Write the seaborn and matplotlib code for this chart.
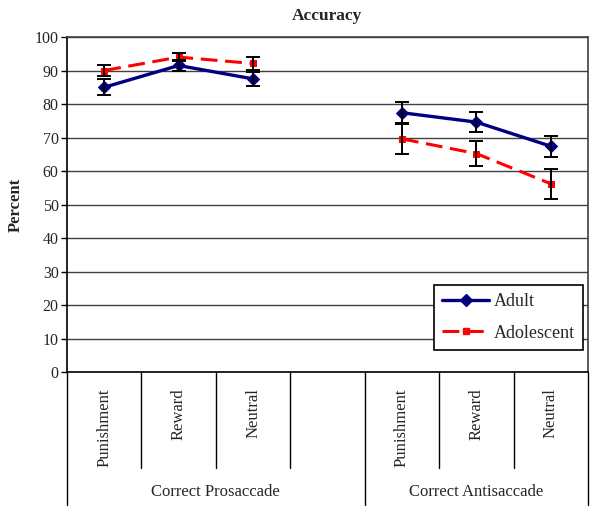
import numpy as np
import pandas as pd
import matplotlib
matplotlib.use("Agg")
import matplotlib.pyplot as plt
import matplotlib.transforms as mtransforms
import seaborn as sns

# category axis (position 3 is an empty slot in the original chart)
conditions = ["Punishment", "Reward", "Neutral", "", "Punishment", "Reward", "Neutral"]
groups = ["Correct Prosaccade", "Correct Antisaccade"]
group_slots = [[0, 1, 2], [4, 5, 6]]

adult_pro = [85.0, 91.5, 87.5]
adult_anti = [77.4, 74.6, 67.4]
adolescent_pro = [90.0, 94.0, 92.1]
adolescent_anti = [69.6, 65.2, 56.2]

adult_pro_err = [2.4, 1.6, 2.0]
adult_anti_err = [3.2, 2.9, 3.2]
adolescent_pro_err = [1.6, 1.1, 1.8]
adolescent_anti_err = [4.5, 3.8, 4.5]

sns.set_theme(style="white")
plt.rcParams["font.family"] = ["Liberation Serif", "DejaVu Serif"]

rows = []
for series, vals, errs in [("Adult", [adult_pro, adult_anti], [adult_pro_err, adult_anti_err]),
                           ("Adolescent", [adolescent_pro, adolescent_anti],
                            [adolescent_pro_err, adolescent_anti_err])]:
    for g, slots, v, e in zip(groups, group_slots, vals, errs):
        for s, val, err in zip(slots, v, e):
            rows.append({"series": series, "group": g, "pos": s, "value": val, "err": err})
df = pd.DataFrame(rows)

fig = plt.figure(figsize=(6, 5.12), dpi=100)
ax = fig.add_axes([0.1117, 0.2734, 0.8683, 0.6543])

styles = {
    "Adult": dict(color="#000080", marker="D", markersize=6, linewidth=2.4, linestyle="-"),
    "Adolescent": dict(color="#ff0000", marker="s", markersize=4.5, linewidth=2.2,
                       linestyle=(0, (5.5, 2.5))),
}

for series in ["Adolescent", "Adult"]:
    st = styles[series]
    for g in groups:
        sub = df[(df.series == series) & (df.group == g)]
        sns.lineplot(data=sub, x="pos", y="value", ax=ax, color=st["color"],
                     marker=st["marker"], markersize=st["markersize"],
                     markeredgecolor=st["color"], linewidth=st["linewidth"],
                     linestyle=st["linestyle"], legend=False, zorder=3)
        ax.errorbar(sub["pos"], sub["value"], yerr=sub["err"], fmt="none",
                    ecolor="black", elinewidth=1.4, capsize=5, capthick=1.4, zorder=4)

ax.set_xlim(-0.5, 6.5)
ax.set_ylim(0, 100)
ax.set_yticks(np.arange(0, 101, 10))
ax.set_yticklabels([str(t) for t in range(0, 101, 10)], fontsize=11.5)
ax.yaxis.grid(True, color="#404040", linewidth=1)
ax.set_axisbelow(True)
ax.tick_params(axis="y", length=4, width=1, color="black", left=True, pad=2)
ax.set_xticks([])
ax.set_xlabel("")
ax.set_ylabel("Percent", fontsize=12, fontweight="bold", labelpad=8)
ax.set_title("Accuracy", fontsize=12.5, fontweight="bold", pad=12)
for sp in ax.spines.values():
    sp.set_color("black")
    sp.set_linewidth(1.2)
ax.spines["top"].set_color("#404040")
ax.spines["right"].set_color("#404040")

# multi-level category axis
trans = mtransforms.blended_transform_factory(ax.transData, ax.transAxes)
for b in np.arange(-0.5, 7.0, 1.0):
    outer = b in (-0.5, 3.5, 6.5)
    ax.plot([b, b], [0, -0.397 if outer else -0.287], transform=trans,
            color="black", linewidth=1, clip_on=False)
for i, lab in enumerate(conditions):
    if lab:
        ax.text(i, -0.048, lab, transform=trans, rotation=90, ha="center", va="top",
                fontsize=12)
for g, slots in zip(groups, [[0, 1, 2, 3], [4, 5, 6]]):
    ax.text(np.mean(slots), -0.358, g, transform=trans, ha="center", va="center",
            fontsize=12)

handles = [plt.Line2D([], [], **styles["Adult"]),
           plt.Line2D([], [], **styles["Adolescent"])]
leg = ax.legend(handles, ["Adult", "Adolescent"], loc="lower right",
                bbox_to_anchor=(0.99, 0.066), fontsize=13, frameon=True, fancybox=False,
                edgecolor="black", framealpha=1, borderaxespad=0, handlelength=2.6,
                handletextpad=0.25, labelspacing=0.8, borderpad=0.45)
leg.get_frame().set_linewidth(1.2)

fig.savefig("out.png", dpi=100)
